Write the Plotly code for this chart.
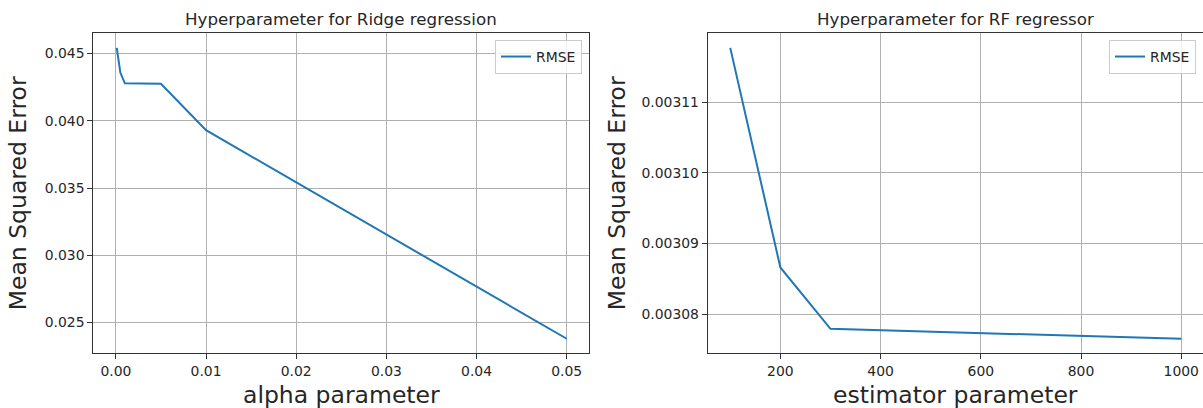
import plotly.graph_objects as go

# ---- data ----
alpha_values = [0.0001, 0.0005, 0.001, 0.005, 0.01, 0.05]
ridge_mse = [0.04542, 0.04358, 0.04278, 0.04275, 0.03930, 0.02380]

estimators = [100, 200, 300, 400, 500, 600, 700, 800, 900, 1000]
rf_mse = [0.0031177, 0.0030866, 0.0030779, 0.0030777, 0.0030775,
          0.0030773, 0.0030771, 0.0030769, 0.0030767, 0.0030765]

left_title = "Hyperparameter for Ridge regression"
right_title = "Hyperparameter for RF regressor"
ylabel = "Mean Squared Error"
left_xlabel = "alpha parameter"
right_xlabel = "estimator parameter"
series_name = "RMSE"

left_xticks = [0.0, 0.01, 0.02, 0.03, 0.04, 0.05]
left_yticks = [0.025, 0.030, 0.035, 0.040, 0.045]
right_xticks = [200, 400, 600, 800, 1000]
right_yticks = [0.00308, 0.00309, 0.00310, 0.00311]

W, H = 1203, 408
FONT = "DejaVu Sans"
LINE_COLOR = "#1f77b4"
GRID = "#b0b0b0"
SPINE = "#333333"
TXT = "#262626"


def px_x(p):
    return min(1.0, max(0.0, p / W))


def px_y(p):
    return min(1.0, max(0.0, 1 - p / H))


def pad(vals, frac=0.05):
    lo, hi = min(vals), max(vals)
    m = (hi - lo) * frac
    return [lo - m, hi + m]


fig = go.Figure()
fig.add_trace(go.Scatter(x=alpha_values, y=ridge_mse, mode="lines", name=series_name,
                         line=dict(color=LINE_COLOR, width=2), xaxis="x", yaxis="y",
                         legend="legend"))
fig.add_trace(go.Scatter(x=estimators, y=rf_mse, mode="lines", name=series_name,
                         line=dict(color=LINE_COLOR, width=2), xaxis="x2", yaxis="y2",
                         legend="legend2"))

ydom = [px_y(353.3), px_y(33.3)]
lx = [px_x(93.3), px_x(589.3)]
rx = [px_x(707.7), 1.0]

axis_common = dict(showgrid=True, gridcolor=GRID, gridwidth=1, showline=True,
                   linecolor=SPINE, linewidth=1, mirror=True, ticks="outside",
                   ticklen=5, tickcolor=SPINE, zeroline=False,
                   tickfont=dict(family=FONT, size=13.9, color=TXT))

xr_left = [-0.0025, 0.0525]
xr_right = pad(estimators)
# right axes is clipped by the window edge: end the range where the window ends
xr_right = [xr_right[0], xr_right[0] + (1203 - 707.7) * (xr_right[1] - xr_right[0]) / (1203.8 - 707.7)]

legend_style = dict(xanchor="right", yanchor="top",
                    bgcolor="rgba(255,255,255,0.8)", bordercolor="#cccccc", borderwidth=1,
                    font=dict(family=FONT, size=13.9, color=TXT), itemwidth=30)

fig.update_layout(
    width=W, height=H,
    margin=dict(l=0, r=0, t=0, b=0),
    paper_bgcolor="white", plot_bgcolor="white",
    showlegend=True,
    xaxis=dict(domain=lx, range=xr_left, tickvals=left_xticks, tickformat=".2f",
               anchor="y", **axis_common),
    yaxis=dict(domain=ydom, range=pad(ridge_mse), tickvals=left_yticks, tickformat=".3f",
               anchor="x", **axis_common),
    xaxis2=dict(domain=rx, range=xr_right, tickvals=right_xticks, tickformat="d",
                anchor="y2", **axis_common),
    yaxis2=dict(domain=ydom, range=pad(rf_mse), tickvals=right_yticks, tickformat=".5f",
                anchor="x2", **axis_common),
    legend=dict(x=px_x(582), y=px_y(40), **legend_style),
    legend2=dict(x=px_x(1196), y=px_y(40), **legend_style),
)

ann = [
    dict(text=left_title, x=(lx[0] + lx[1]) / 2, y=px_y(19)),
    dict(text=right_title, x=px_x((707.7 + 1203.8) / 2), y=px_y(19)),
]
for a in ann:
    a.update(xref="paper", yref="paper", showarrow=False, xanchor="center",
             yanchor="middle", font=dict(family=FONT, size=16.7, color=TXT))

labels = [
    dict(text=left_xlabel, x=(lx[0] + lx[1]) / 2, y=px_y(395), textangle=0),
    dict(text=right_xlabel, x=px_x((707.7 + 1203.8) / 2), y=px_y(395), textangle=0),
    dict(text=ylabel, x=px_x(18), y=(ydom[0] + ydom[1]) / 2, textangle=-90),
    dict(text=ylabel, x=px_x(617), y=(ydom[0] + ydom[1]) / 2, textangle=-90),
]
for a in labels:
    a.update(xref="paper", yref="paper", showarrow=False, xanchor="center",
             yanchor="middle", font=dict(family=FONT, size=23.5, color=TXT))

fig.update_layout(annotations=ann + labels)
fig.write_html(
    "out.html",
    config={"displayModeBar": False},
    post_script="document.body.style.margin='0';document.body.style.overflow='hidden';",
)
